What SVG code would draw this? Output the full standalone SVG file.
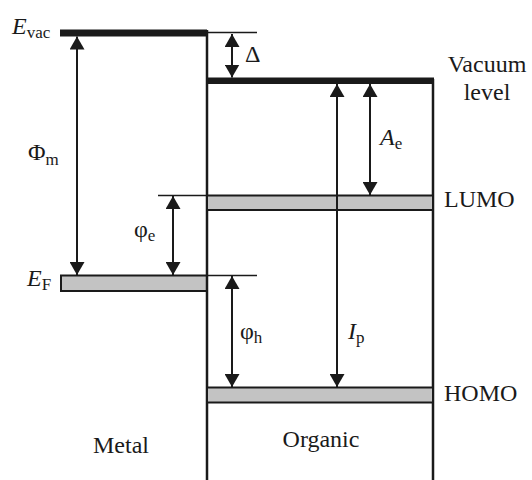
<svg xmlns="http://www.w3.org/2000/svg" width="532" height="480" viewBox="0 0 532 480">
<style>
.t{font-family:"Liberation Serif","Times New Roman",serif;fill:#1a1a1a;font-size:24px}
.s{font-size:17px}
.i{font-style:italic}
.ln{stroke:#1a1a1a;stroke-width:2.5;fill:none}
.thin{stroke:#1a1a1a;stroke-width:1.6;fill:none}
.bar{fill:#1a1a1a}
.band{fill:#c3c3c3;stroke:#1a1a1a;stroke-width:2}
.ar{stroke:#1a1a1a;stroke-width:2;fill:none;marker-start:url(#ah);marker-end:url(#ah)}
</style>
<defs>
<marker id="ah" viewBox="0 0 13 15" refX="13" refY="7.5" markerWidth="13" markerHeight="15" markerUnits="userSpaceOnUse" orient="auto-start-reverse">
<path d="M0,0 L13,7.5 L0,15 Z" fill="#1a1a1a"/>
</marker>
</defs>
<rect width="532" height="480" fill="#fff"/>
<g id="metal">
<rect x="60" y="29.5" width="147" height="7" class="bar"/>
<rect x="61" y="275.5" width="146" height="15.5" class="band"/>
<text x="12" y="34" class="t"><tspan class="i">E</tspan><tspan class="s" dy="4">vac</tspan></text>
<text x="27" y="286" class="t"><tspan class="i">E</tspan><tspan class="s" dy="4">F</tspan></text>
<text x="121" y="453" class="t" text-anchor="middle">Metal</text>
</g>
<g id="organic">
<line x1="207" y1="30" x2="207" y2="480" class="ln"/>
<line x1="433" y1="79" x2="433" y2="480" class="ln"/>
<rect x="207" y="77.5" width="227" height="6.5" class="bar"/>
<rect x="207" y="195.5" width="226" height="14.5" class="band"/>
<rect x="207" y="387.5" width="226" height="15" class="band"/>
<text x="321" y="447" class="t" text-anchor="middle">Organic</text>
<text x="487" y="72" class="t" text-anchor="middle">Vacuum</text>
<text x="487" y="100" class="t" text-anchor="middle">level</text>
<text x="444" y="207" class="t">LUMO</text>
<text x="444" y="401" class="t">HOMO</text>
</g>
<g id="guides">
<line x1="207" y1="32.5" x2="257" y2="32.5" class="thin"/>
<line x1="158" y1="195.5" x2="207" y2="195.5" class="thin"/>
<line x1="207" y1="275.5" x2="257" y2="275.5" class="thin"/>
</g>
<g id="connectors">
<line x1="232" y1="34" x2="232" y2="77.5" class="ar"/>
<line x1="77" y1="36.5" x2="77" y2="275" class="ar"/>
<line x1="173" y1="196" x2="173" y2="275" class="ar"/>
<line x1="232" y1="276" x2="232" y2="387" class="ar"/>
<line x1="337" y1="84" x2="337" y2="387" class="ar"/>
<line x1="370" y1="84" x2="370" y2="195" class="ar"/>
</g>
<g id="labels">
<text x="245" y="62" class="t">Δ</text>
<text x="28" y="160" class="t">Φ<tspan class="s" dy="5">m</tspan></text>
<text x="134" y="237" class="t">φ<tspan class="s" dy="4">e</tspan></text>
<text x="240" y="339" class="t">φ<tspan class="s" dy="4">h</tspan></text>
<text x="380" y="145" class="t"><tspan class="i">A</tspan><tspan class="s" dy="4">e</tspan></text>
<text x="348" y="339" class="t"><tspan class="i">I</tspan><tspan class="s" dy="4">p</tspan></text>
</g>
</svg>
